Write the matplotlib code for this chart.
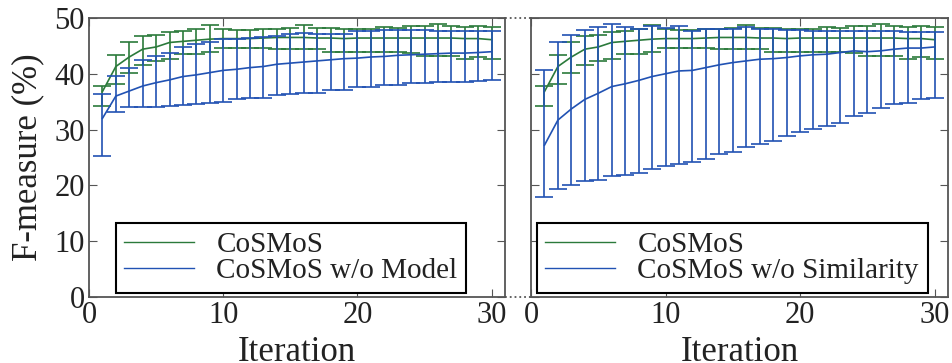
import numpy as np
import matplotlib.pyplot as plt

plt.rcParams['font.family'] = ['Liberation Serif', 'DejaVu Serif']

# 数据
iterations = np.arange(1, 31)

cosmos_mean = [36.8, 41.3, 43.0, 44.4, 44.8, 45.6, 45.8, 46.0, 46.2, 46.3,
               46.3, 46.3, 46.4, 46.5, 46.5, 46.5, 46.4, 46.4, 46.3, 46.4,
               46.4, 46.4, 46.4, 46.4, 46.4, 46.4, 46.4, 46.3, 46.3, 46.1]
cosmos_high = [37.8, 43.4, 45.7, 46.8, 47.0, 47.4, 47.7, 48.1, 48.7, 48.1,
               47.8, 47.8, 48.0, 48.0, 48.2, 48.8, 48.2, 48.2, 48.0, 48.0,
               48.0, 48.4, 48.2, 48.5, 48.6, 48.9, 48.6, 48.4, 48.6, 48.4]
cosmos_low = [34.3, 38.2, 40.2, 41.5, 42.2, 42.6, 43.5, 43.5, 43.9, 44.6,
              44.6, 44.7, 44.7, 44.4, 44.4, 44.4, 44.4, 43.9, 43.9, 43.9,
              43.9, 43.9, 43.9, 43.7, 43.2, 43.2, 43.2, 42.7, 43.0, 42.7]

nomodel_mean = [32.0, 36.0, 36.9, 37.8, 38.4, 38.9, 39.5, 39.8, 40.2, 40.6,
                40.8, 41.1, 41.3, 41.7, 41.9, 42.1, 42.3, 42.5, 42.7, 42.8,
                43.0, 43.1, 43.3, 43.4, 43.5, 43.6, 43.7, 43.7, 43.8, 43.95]
nomodel_high = [36.4, 39.6, 41.0, 42.5, 43.2, 43.8, 44.8, 45.3, 45.6, 46.2,
                46.3, 46.4, 46.5, 46.8, 47.1, 47.3, 47.1, 47.1, 47.1, 47.6,
                47.6, 47.8, 47.8, 47.8, 47.8, 47.6, 47.6, 47.6, 47.6, 47.6]
nomodel_low = [25.3, 33.1, 34.0, 34.0, 34.1, 34.3, 34.4, 34.5, 34.8, 35.0,
               35.4, 35.6, 35.7, 36.1, 36.3, 36.6, 36.6, 37.1, 37.1, 37.6,
               37.7, 37.9, 38.0, 38.3, 38.4, 38.5, 38.6, 38.6, 38.7, 38.8]

nosim_mean = [27.2, 31.7, 33.7, 35.4, 36.5, 37.7, 38.2, 38.8, 39.5, 40.0,
              40.5, 40.6, 41.1, 41.6, 42.0, 42.3, 42.6, 42.7, 42.9, 43.2,
              43.4, 43.5, 43.8, 44.1, 43.95, 44.1, 44.4, 44.6, 44.6, 44.8]
nosim_high = [40.7, 45.7, 46.9, 47.9, 48.4, 48.9, 48.3, 48.0, 48.6, 48.2,
              48.6, 47.7, 48.0, 48.0, 48.1, 48.3, 48.0, 48.0, 47.9, 47.9,
              47.7, 47.7, 47.7, 47.7, 47.6, 47.6, 47.6, 47.4, 47.4, 47.4]
nosim_low = [17.9, 19.4, 20.1, 20.8, 20.9, 21.6, 21.9, 22.2, 22.9, 23.4,
             23.8, 24.2, 24.8, 25.6, 25.9, 26.8, 27.4, 28.0, 28.8, 29.5,
             30.1, 30.7, 31.2, 32.5, 33.0, 33.8, 34.5, 34.8, 35.4, 35.6]

green = '#2b7a3b'
blue = '#2152b3'

fig = plt.figure(figsize=(9.52, 3.63), dpi=100)
ax1 = fig.add_axes([0.0935, 0.182, 0.437, 0.7686])
ax2 = fig.add_axes([0.5578, 0.182, 0.438, 0.7686])

panels = [
    (ax1, nomodel_mean, nomodel_low, nomodel_high, 'CoSMoS w/o Model', 0.064),
    (ax2, nosim_mean, nosim_low, nosim_high, 'CoSMoS w/o Similarity', 0.0137),
]

for ax, mean, low, high, label, lx in panels:
    for m, lo, hi, c, lab in [(cosmos_mean, cosmos_low, cosmos_high, green, 'CoSMoS'),
                              (mean, low, high, blue, label)]:
        m = np.array(m)
        yerr = [m - np.array(lo), np.array(hi) - m]
        ax.errorbar(iterations, m, yerr=yerr, fmt='none', ecolor=c,
                    elinewidth=1.2, capsize=6.5, capthick=1.2)
        ax.plot(iterations, m, color=c, lw=1.2, label=lab)

    ax.set_xlim(0, 31)
    ax.set_ylim(0, 50)
    ax.set_xticks([0, 10, 20, 30])
    ax.set_yticks([0, 10, 20, 30, 40, 50])
    ax.tick_params(direction='in', top=True, right=True, length=6,
                   labelsize=22, colors='#555555', labelcolor='#222222', pad=3)
    for s in ax.spines.values():
        s.set_color('#555555')
        s.set_linewidth(1.3)
    ax.set_xlabel('Iteration', fontsize=25, color='#222222', labelpad=4)
    leg = ax.legend(loc='lower left', bbox_to_anchor=(lx, 0.014), fontsize=21,
                    handlelength=2.4, handletextpad=0.75, labelspacing=0.0,
                    borderpad=0.3, borderaxespad=0, fancybox=False,
                    framealpha=1, edgecolor='black')
    leg.get_frame().set_linewidth(1.5)
    for h in leg.get_lines():
        h.set_linewidth(1.0)
    for t in leg.get_texts():
        t.set_color('#222222')

ax2.tick_params(labelleft=False)
ax1.set_ylabel('F-measure (%)', fontsize=25, color='#222222', labelpad=7)

# 两个子图之间的虚线连接
gap = 0.0625
for yy in (0, 1):
    ax1.plot([1, 1 + gap], [yy, yy], transform=ax1.transAxes, ls=':',
             color='#555555', lw=1.3, clip_on=False)

plt.savefig('out.png', dpi=100)
